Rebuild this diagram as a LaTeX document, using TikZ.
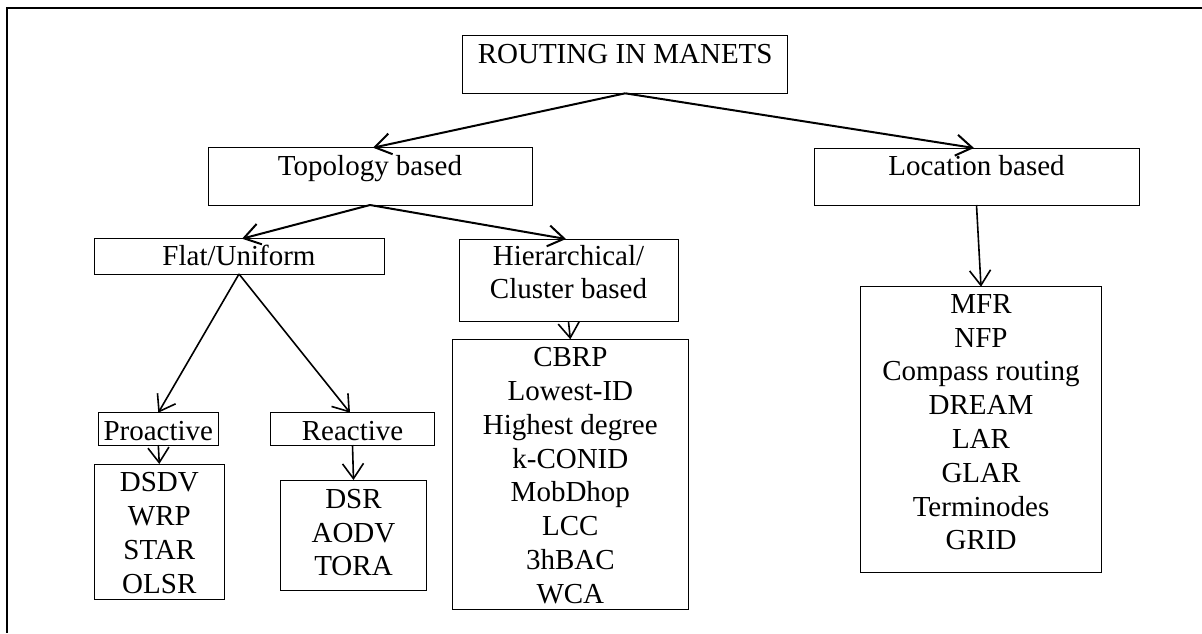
\documentclass[tikz,border=0pt]{standalone}
\usepackage{fontspec}
\setmainfont{Liberation Serif}
\usetikzlibrary{arrows.meta}

% centred stack of lines whose reference point is the first baseline
\newcommand\linestack[1]{\vtop{\halign{\hfil##\hfil\cr#1\crcr}}}

\begin{document}
\begin{tikzpicture}[x=1pt,y=-1pt,
  box/.style={draw, line width=1pt, inner sep=0pt, outer sep=0pt,
    anchor=north west, font=\fontsize{29pt}{33.8pt}\selectfont},
  arr/.style={line width=2pt, -{Straight Barb[length=16pt,width=21pt]}},
  arrs/.style={line width=1.6pt, -{Straight Barb[length=15pt,width=21pt]}}]
\useasboundingbox (0,0) rectangle (1202,633);

% outer frame (top and left edges)
\draw[line width=2pt] (1202,8) -- (7,8) -- (7,633);

% boxes: corner at (left, top); text height = first baseline - top
\node[box, minimum width=325pt, text height=27.6pt, text depth=30pt]
  (root) at (462.7,35.7) {ROUTING IN MANETS};
\node[box, minimum width=324pt, text height=27.3pt, text depth=30pt]
  (topo) at (208,147.7) {Topology based};
\node[box, minimum width=325pt, text height=27pt, text depth=30pt]
  (loc) at (814,148) {Location based};
\node[box, minimum width=290pt, text height=26.3pt, text depth=9pt]
  (flat) at (94,238.7) {Flat/Uniform};
\node[box, minimum width=219pt, text height=26pt, text depth=56.7pt]
  (hier) at (459,239) {\linestack{Hierarchical/\cr Cluster based}};
\node[box, minimum width=120pt, text height=27.3pt, text depth=5pt]
  (pro) at (98.3,412.7) {Proactive};
\node[box, minimum width=163.6pt, text height=27.3pt, text depth=5pt]
  (rea) at (270.7,412.7) {Reactive};
\node[box, minimum width=130pt, text height=27.7pt, text depth=107.3pt]
  (prolist) at (94.3,464) {\linestack{DSDV\cr WRP\cr STAR\cr OLSR}};
\node[box, minimum width=146.4pt, text height=28.3pt, text depth=81.7pt]
  (realist) at (280.3,480) {\linestack{DSR\cr AODV\cr TORA}};
\node[box, minimum width=235.3pt, text height=27.4pt, text depth=242.6pt]
  (hierlist) at (452.7,339.3) {\linestack{CBRP\cr Lowest-ID\cr Highest degree\cr k-CONID\cr MobDhop\cr LCC\cr 3hBAC\cr WCA}};
\node[box, minimum width=240.6pt, text height=26.6pt, text depth=259pt]
  (loclist) at (860.7,286.7) {\linestack{MFR\cr NFP\cr Compass routing\cr DREAM\cr LAR\cr GLAR\cr Terminodes\cr GRID}};

% connectors
\draw[arr] (root.south) -- ([xshift=3pt]topo.north);
\draw[arr] (root.south) -- ([xshift=-2.5pt]loc.north);
\draw[arr] (topo.south) -- ([xshift=3pt]flat.north);
\draw[arr] (topo.south) -- ([xshift=-2.5pt]hier.north);
\draw[arrs] (flat.south) -- (pro.north);
\draw[arrs] (flat.south) -- ([xshift=-2.5pt]rea.north);
\draw[arrs] (loc.south) -- (loclist.north);
\draw[arrs] (pro.south) -- (prolist.north);
\draw[arrs] (rea.south) -- (realist.north);
\draw[arrs] (hier.south) -- (hierlist.north);
\end{tikzpicture}
\end{document}
